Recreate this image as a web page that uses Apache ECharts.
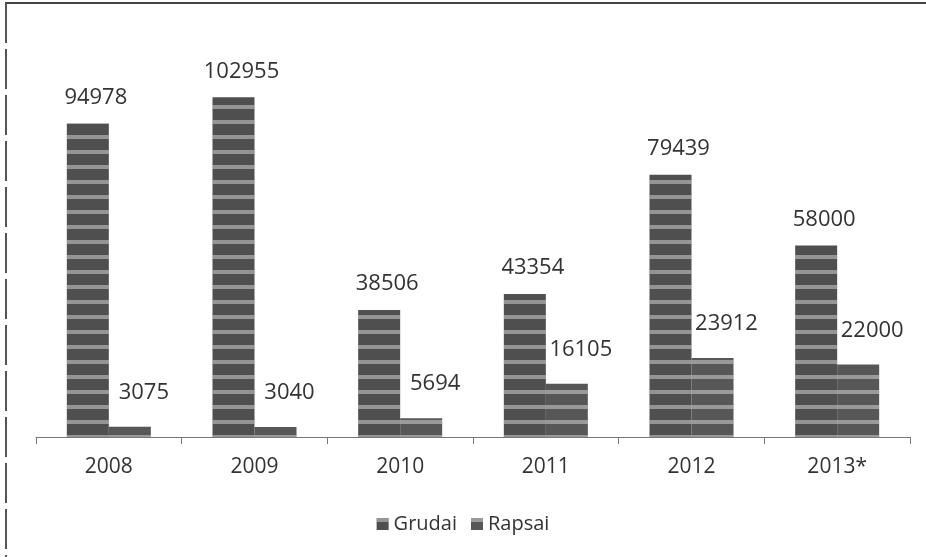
<!DOCTYPE html>
<html><head><meta charset="utf-8">
<script src="https://cdn.jsdelivr.net/npm/echarts@6/dist/echarts.min.js"></script>
<style>html,body{margin:0;padding:0;background:#fff}#c{width:926px;height:557px}</style>
</head><body><div id="c"></div>
<script>
const categories = ['2008','2009','2010','2011','2012','2013*'];
const grudai = [94978, 102955, 38506, 43354, 79439, 58000];
const rapsai = [3075, 3040, 5694, 16105, 23912, 22000];

const font = '"Open Sans", "Noto Sans", sans-serif';
const chart = echarts.init(document.getElementById('c'));
const stripes = {color:'rgba(235,235,235,0.45)', dashArrayX:[1,0], dashArrayY:[4,11], rotation:0, symbolSize:1};
chart.setOption({
  animation:false,
  backgroundColor:'#fff',
  grid:{left:36,right:16,top:41,bottom:120},
  legend:{bottom:18,left:'center',itemWidth:12,itemHeight:12,itemGap:14,icon:'rect',
    textStyle:{fontFamily:font,fontSize:20,color:'#333'},data:['Grudai','Rapsai']},
  xAxis:{type:'category',data:categories,
    axisLine:{lineStyle:{color:'#777',width:1}},
    axisTick:{show:true,length:7,lineStyle:{color:'#777'}},
    axisLabel:{fontFamily:font,fontSize:21,color:'#333',margin:20}},
  yAxis:{type:'value',min:0,max:120000,show:false,splitLine:{show:false}},
  graphic:[
    {type:'line',shape:{x1:5,y1:3,x2:926,y2:3},style:{stroke:'#444',lineWidth:2}},
    {type:'line',shape:{x1:6,y1:3,x2:6,y2:557},style:{stroke:'#555',lineWidth:2,lineDash:[40,6]}}
  ],
  series:[
    {name:'Grudai',type:'bar',data:grudai,barWidth:42,barGap:'0%',
      itemStyle:{color:'#4f4f4f',decal:stripes},
      label:{show:true,position:'top',offset:[8,-10],fontFamily:font,fontSize:22,color:'#333'}},
    {name:'Rapsai',type:'bar',data:rapsai,barWidth:42,
      itemStyle:{color:'#575757',decal:stripes},
      label:{show:true,position:'top',offset:[14,-18],fontFamily:font,fontSize:22,color:'#333'}}
  ]
});
</script></body></html>
